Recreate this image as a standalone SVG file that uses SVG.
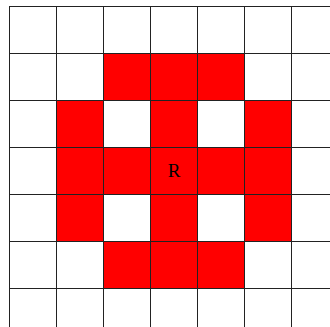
<svg xmlns="http://www.w3.org/2000/svg" width="330" height="327" viewBox="0 0 330 327">
<style>
.cell{fill:#ff0000}
.grid line{stroke:#222;stroke-width:1}
.lbl{font-family:"Liberation Serif","DejaVu Serif",serif;font-size:19px;fill:#000}
</style>
<rect width="330" height="327" fill="#fff"/>
<g id="cells">
<rect class="cell" x="103.5" y="53" width="141" height="47"/>
<rect class="cell" x="56.5" y="100" width="47" height="141"/>
<rect class="cell" x="150.5" y="100" width="47" height="141"/>
<rect class="cell" x="244.5" y="100" width="47" height="141"/>
<rect class="cell" x="56.5" y="147" width="235" height="47"/>
<rect class="cell" x="103.5" y="241" width="141" height="47"/>
</g>
<g class="grid" id="grid">
<line x1="9.5" y1="6" x2="9.5" y2="327"/>
<line x1="56.5" y1="6" x2="56.5" y2="327"/>
<line x1="103.5" y1="6" x2="103.5" y2="327"/>
<line x1="150.5" y1="6" x2="150.5" y2="327"/>
<line x1="197.5" y1="6" x2="197.5" y2="327"/>
<line x1="244.5" y1="6" x2="244.5" y2="327"/>
<line x1="291.5" y1="6" x2="291.5" y2="327"/>
<line x1="9.5" y1="6.5" x2="330" y2="6.5"/>
<line x1="9.5" y1="53.5" x2="330" y2="53.5"/>
<line x1="9.5" y1="100.5" x2="330" y2="100.5"/>
<line x1="9.5" y1="147.5" x2="330" y2="147.5"/>
<line x1="9.5" y1="194.5" x2="330" y2="194.5"/>
<line x1="9.5" y1="241.5" x2="330" y2="241.5"/>
<line x1="9.5" y1="288.5" x2="330" y2="288.5"/>
</g>
<g id="label">
<text class="lbl" x="174" y="177" text-anchor="middle">R</text>
</g>
</svg>
